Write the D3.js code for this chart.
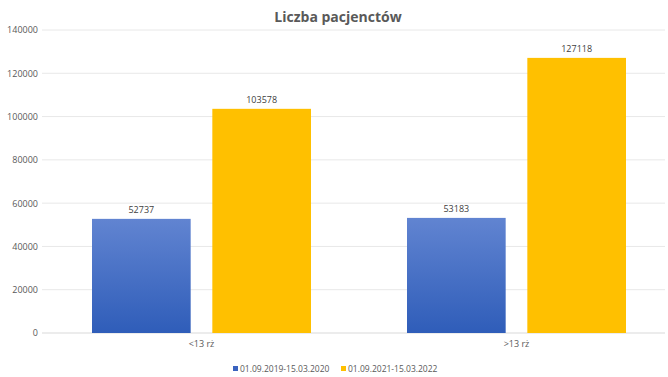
<!DOCTYPE html>
<html>
<head>
<meta charset="utf-8">
<script src="https://cdn.jsdelivr.net/npm/d3@7"></script>
<style>
  body { margin: 0; background: #fff; }
  svg { font-family: "Open Sans", "Liberation Sans", sans-serif; }
</style>
</head>
<body>
<div id="chart"></div>
<script>
// data
var categories = ["<13 rż", ">13 rż"];
var seriesNames = ["01.09.2019-15.03.2020", "01.09.2021-15.03.2022"];
var values2020 = [52737, 53183];
var values2022 = [103578, 127118];
var yTicks = [0, 20000, 40000, 60000, 80000, 100000, 120000, 140000];

var W = 668, H = 377;
var margin = { left: 44, right: -6, top: 30, bottom: 44 };
var width = W - margin.left - margin.right,
    height = H - margin.top - margin.bottom;

var svg = d3.select("#chart").append("svg")
    .attr("width", W)
    .attr("height", H);

// gradient for blue bars
var defs = svg.append("defs");
var grad = defs.append("linearGradient")
    .attr("id", "blueGrad")
    .attr("x1", 0).attr("y1", 0).attr("x2", 0).attr("y2", 1);
grad.append("stop").attr("offset", "0%").attr("stop-color", "#6184d1");
grad.append("stop").attr("offset", "100%").attr("stop-color", "#2f5db9");

var colors = ["url(#blueGrad)", "#ffc000"];
var legendColors = ["#3a63bf", "#ffc000"];

var g = svg.append("g")
    .attr("transform", "translate(" + margin.left + "," + margin.top + ")");

// title
svg.append("text")
    .attr("x", 338)
    .attr("y", 22)
    .attr("text-anchor", "middle")
    .attr("font-size", "14px")
    .attr("font-weight", "bold")
    .attr("fill", "#595959")
    .text("Liczba pacjenctów");

// scales
var x0 = d3.scaleBand()
    .domain(categories)
    .range([0, width])
    .paddingInner(0)
    .paddingOuter(0);

var x1 = d3.scaleBand()
    .domain([0, 1])
    .range([48, x0.bandwidth() - 48])
    .paddingInner(0.18);

var y = d3.scaleLinear()
    .domain([0, 140000])
    .range([height, 0]);

// gridlines
g.append("g").selectAll("line")
    .data(yTicks)
    .enter().append("line")
    .attr("x1", -2)
    .attr("x2", 621)
    .attr("y1", function(d){ return y(d); })
    .attr("y2", function(d){ return y(d); })
    .attr("stroke", function(d){ return d === 0 ? "#d9d9d9" : "#e8e8e8"; })
    .attr("stroke-width", 1);

// y axis labels
var yAxis = d3.axisLeft(y).tickValues(yTicks).tickSize(0).tickPadding(6)
    .tickFormat(function(d){ return d; });
g.append("g").call(yAxis)
    .call(function(s){ s.select(".domain").remove(); })
    .selectAll("text")
    .attr("font-size", "9px")
    .attr("fill", "#595959")
    .attr("font-family", "Open Sans, sans-serif");

// x axis labels
var xAxis = d3.axisBottom(x0).tickSize(0).tickPadding(8);
g.append("g")
    .attr("transform", "translate(0," + height + ")")
    .call(xAxis)
    .call(function(s){ s.select(".domain").remove(); })
    .selectAll("text")
    .attr("font-size", "9px")
    .attr("fill", "#595959")
    .attr("font-family", "Open Sans, sans-serif");

// bars
var rows = categories.map(function(c, i){
  return { cat: c, vals: [values2020[i], values2022[i]] };
});

var groups = g.selectAll(".grp")
    .data(rows)
    .enter().append("g")
    .attr("class", "grp")
    .attr("transform", function(d){ return "translate(" + x0(d.cat) + ",0)"; });

groups.selectAll("rect")
    .data(function(d){ return d.vals.map(function(v, j){ return { v: v, s: j }; }); })
    .enter().append("rect")
    .attr("x", function(d){ return x1(d.s); })
    .attr("width", x1.bandwidth())
    .attr("y", function(d){ return y(d.v); })
    .attr("height", function(d){ return y(0) - y(d.v); })
    .attr("fill", function(d){ return colors[d.s]; });

groups.selectAll(".val")
    .data(function(d){ return d.vals.map(function(v, j){ return { v: v, s: j }; }); })
    .enter().append("text")
    .attr("class", "val")
    .attr("x", function(d){ return x1(d.s) + x1.bandwidth() / 2; })
    .attr("y", function(d){ return y(d.v) - 6; })
    .attr("text-anchor", "middle")
    .attr("font-size", "9px")
    .attr("fill", "#404040")
    .text(function(d){ return d.v; });

// legend
var legendX = [233, 341];
var legend = svg.append("g").selectAll("g")
    .data(seriesNames)
    .enter().append("g")
    .attr("transform", function(d, i){ return "translate(" + legendX[i] + ",372)"; });

legend.append("rect")
    .attr("x", 0).attr("y", -6)
    .attr("width", 5).attr("height", 5)
    .attr("fill", function(d, i){ return legendColors[i]; });

legend.append("text")
    .attr("x", 7)
    .attr("y", 0)
    .attr("font-size", "8.5px")
    .attr("fill", "#595959")
    .text(function(d){ return d; });
</script>
</body>
</html>
